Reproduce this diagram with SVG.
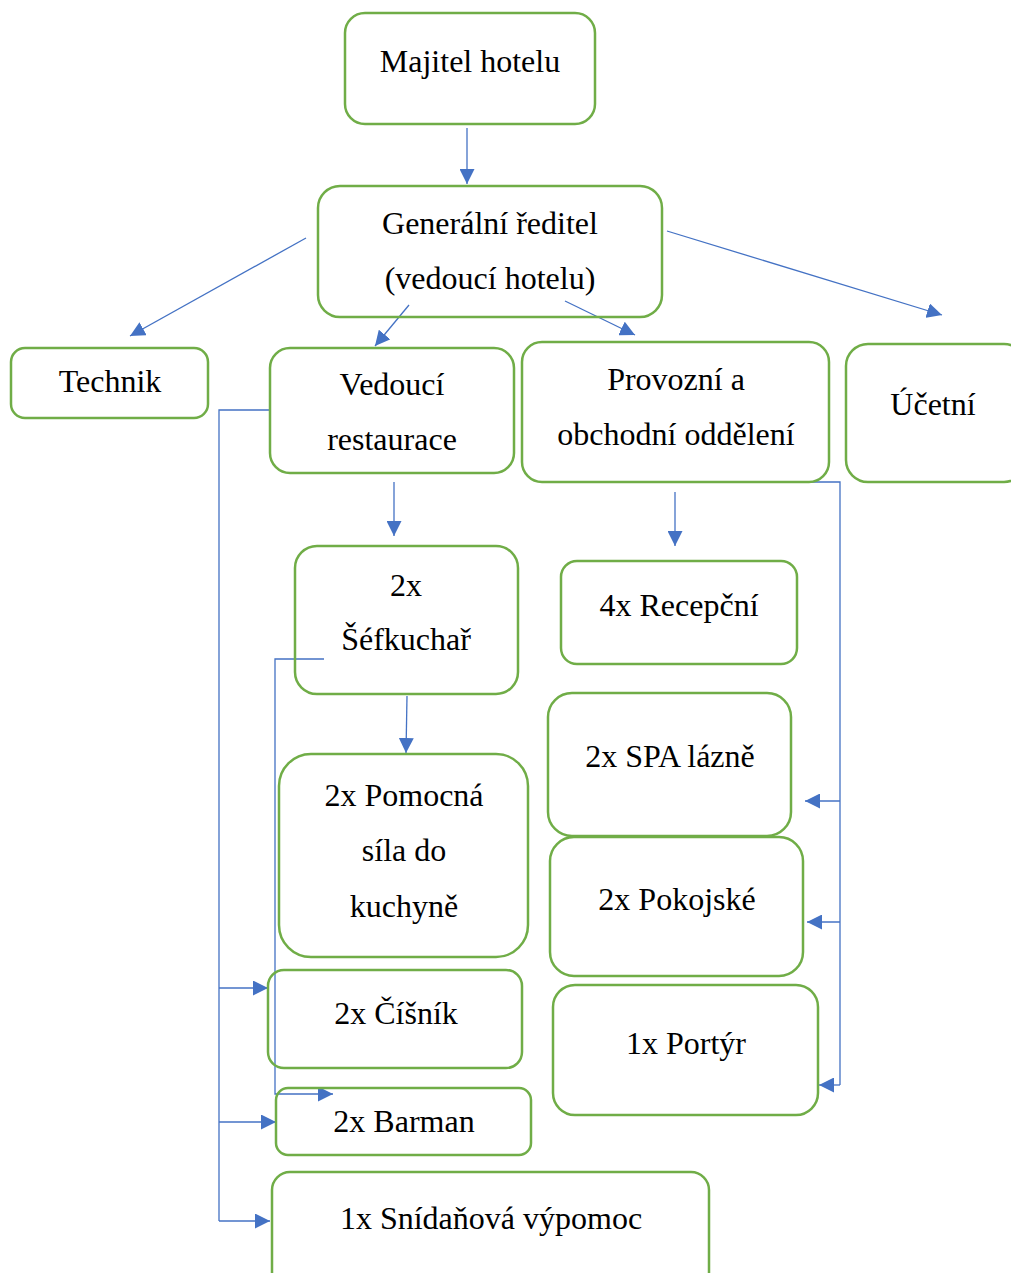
<svg xmlns="http://www.w3.org/2000/svg" width="1011" height="1273" viewBox="0 0 1011 1273">
<defs>
<style>
.n{fill:none;stroke:#70AD47;stroke-width:2.5}
.t{font-family:"Liberation Serif","Times New Roman",serif;font-size:32px;fill:#000;text-anchor:middle}
.c{fill:none;stroke:#4472C4;stroke-width:1.3}
</style>
<marker id="a" viewBox="0 0 10 10" refX="10" refY="5" markerWidth="15" markerHeight="15" markerUnits="userSpaceOnUse" orient="auto">
<path d="M0,0 L10,5 L0,10 z" fill="#4472C4"/>
</marker>
</defs>
<rect width="1011" height="1273" fill="#fff"/>
<g id="connectors">
<line class="c" x1="467" y1="128" x2="467" y2="184" marker-end="url(#a)"/>
<line class="c" x1="306" y1="238" x2="130" y2="336" marker-end="url(#a)"/>
<line class="c" x1="409" y1="305" x2="375" y2="346" marker-end="url(#a)"/>
<line class="c" x1="565" y1="301" x2="635" y2="335" marker-end="url(#a)"/>
<line class="c" x1="667" y1="231" x2="942" y2="315" marker-end="url(#a)"/>
<line class="c" x1="394" y1="482" x2="394" y2="536" marker-end="url(#a)"/>
<line class="c" x1="675" y1="492" x2="675" y2="546" marker-end="url(#a)"/>
<line class="c" x1="407" y1="696" x2="406" y2="753" marker-end="url(#a)"/>
<path class="c" d="M270,410 H219 V1221" stroke-width="2.5"/>
<polyline class="c" points="219,988 268,988" marker-end="url(#a)"/>
<polyline class="c" points="219,1122 276,1122" marker-end="url(#a)"/>
<polyline class="c" points="219,1221 270,1221" marker-end="url(#a)"/>
<polyline class="c" points="324,659 275,659 275,1094 333,1094" marker-end="url(#a)"/>
<path class="c" d="M810,482 H840 V1085" stroke-width="2.2"/>
<polyline class="c" points="840,801 805,801" marker-end="url(#a)"/>
<polyline class="c" points="840,922 807,922" marker-end="url(#a)"/>
<polyline class="c" points="840,1085 819,1085" marker-end="url(#a)"/>
</g>
<g id="majitel"><rect class="n" x="345" y="13" width="250" height="111" rx="20"/><text class="t" x="470" y="72">Majitel hotelu</text></g>
<g id="reditel"><rect class="n" x="318" y="186" width="344" height="131" rx="22"/><text class="t" x="490" y="234">Generální ředitel</text><text class="t" x="490" y="289">(vedoucí hotelu)</text></g>
<g id="technik"><rect class="n" x="11" y="348" width="197" height="70" rx="14"/><text class="t" x="110" y="392">Technik</text></g>
<g id="vedouci"><rect class="n" x="270" y="348" width="244" height="125" rx="20"/><text class="t" x="392" y="395">Vedoucí</text><text class="t" x="392" y="450">restaurace</text></g>
<g id="provozni"><rect class="n" x="522" y="342" width="307" height="140" rx="20"/><text class="t" x="676" y="390">Provozní a</text><text class="t" x="676" y="445">obchodní oddělení</text></g>
<g id="ucetni"><rect class="n" x="846" y="344" width="180" height="138" rx="22"/><text class="t" x="933" y="415">Účetní</text></g>
<g id="sefkuchar"><rect class="n" x="295" y="546" width="223" height="148" rx="22"/><text class="t" x="406" y="596">2x</text><text class="t" x="406" y="650">Šéfkuchař</text></g>
<g id="recepcni"><rect class="n" x="561" y="561" width="236" height="103" rx="16"/><text class="t" x="679" y="616">4x Recepční</text></g>
<g id="spa"><rect class="n" x="548" y="693" width="243" height="143" rx="24"/><text class="t" x="670" y="767">2x SPA lázně</text></g>
<g id="pokojske"><rect class="n" x="550" y="837" width="253" height="139" rx="24"/><text class="t" x="677" y="910">2x Pokojské</text></g>
<g id="portyr"><rect class="n" x="553" y="985" width="265" height="130" rx="22"/><text class="t" x="686" y="1054">1x Portýr</text></g>
<g id="pomocna"><rect class="n" x="279" y="754" width="249" height="203" rx="32"/><text class="t" x="404" y="806">2x Pomocná</text><text class="t" x="404" y="861">síla do</text><text class="t" x="404" y="917">kuchyně</text></g>
<g id="cisnik"><rect class="n" x="268" y="970" width="254" height="98" rx="16"/><text class="t" x="396" y="1024">2x Číšník</text></g>
<g id="barman"><rect class="n" x="276" y="1088" width="255" height="67" rx="12"/><text class="t" x="404" y="1132">2x Barman</text></g>
<g id="snidanova"><rect class="n" x="272" y="1172" width="437" height="120" rx="18"/><text class="t" x="491" y="1229">1x Snídaňová výpomoc</text></g>
</svg>
